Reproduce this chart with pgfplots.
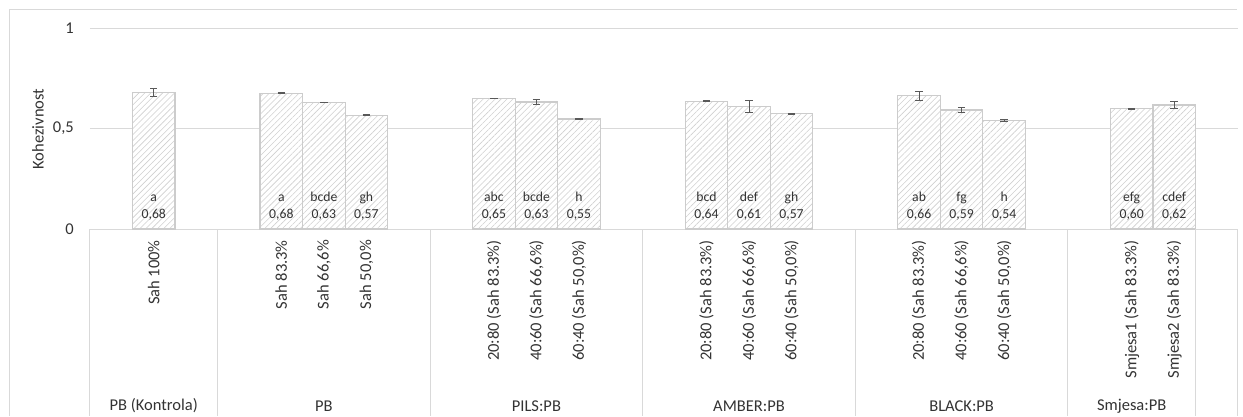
\documentclass[border=0pt]{standalone}
\usepackage{pgfplots}
\pgfplotsset{compat=1.18}
\usepackage{pgfplotstable}
\usepackage{fontspec}
\setmainfont{Carlito}
\usetikzlibrary{patterns.meta}

\definecolor{gridc}{HTML}{D9D9D9}
\definecolor{barc}{HTML}{CCCCCC}
\definecolor{hatchc}{HTML}{D0D0D0}
\definecolor{errc}{HTML}{595959}
\definecolor{txt}{HTML}{333333}

\pgfplotstableread{
x    y     err   lab
1.5  0.678 0.021 a
4.5  0.676 0.002 a
5.5  0.630 0.002 bcde
6.5  0.566 0.003 gh
9.5  0.650 0.001 abc
10.5 0.632 0.012 bcde
11.5 0.547 0.004 h
14.5 0.636 0.002 bcd
15.5 0.610 0.030 def
16.5 0.573 0.004 gh
19.5 0.663 0.022 ab
20.5 0.592 0.012 fg
21.5 0.541 0.004 h
24.5 0.598 0.004 efg
25.5 0.617 0.018 cdef
}\data

\begin{document}
\begin{tikzpicture}[font=\fontsize{16.5}{20}\selectfont, text=txt]
\useasboundingbox (0,0) rectangle (1243pt,416pt);
\draw[gridc, line width=1pt] (9pt,0pt) -- (9pt,406pt) -- (1237pt,406pt);
\node[rotate=90] at (38pt,287pt) {Kohezivnost};
\begin{axis}[
  at={(90pt,187pt)}, anchor=south west,
  width=1148pt, height=201pt, scale only axis,
  xmin=0, xmax=27, ymin=0, ymax=1,
  axis x line=bottom, axis y line=left,
  x axis line style={draw=gridc, line width=1pt, -},
  y axis line style={draw=none},
  major tick length=0pt,
  ytick={0,0.5,1}, yticklabels={0,{0,5},1},
  ymajorgrids, grid style={draw=gridc, line width=1pt},
  yticklabel style={anchor=east, inner sep=0pt, xshift=-16pt},
  xtick={1.5,4.5,5.5,6.5,9.5,10.5,11.5,14.5,15.5,16.5,19.5,20.5,21.5,24.5,25.5},
  xticklabels={Sah 100\%, Sah 83.3\%, {Sah 66,6\%}, {Sah 50,0\%},
    20:80 (Sah 83.3\%), {40:60 (Sah 66,6\%)}, {60:40 (Sah 50,0\%)},
    20:80 (Sah 83.3\%), {40:60 (Sah 66,6\%)}, {60:40 (Sah 50,0\%)},
    20:80 (Sah 83.3\%), {40:60 (Sah 66,6\%)}, {60:40 (Sah 50,0\%)},
    Smjesa1 (Sah 83.3\%), Smjesa2 (Sah 83.3\%)},
  xticklabel style={yshift=-11pt, rotate=90, anchor=east, inner sep=0pt},
  clip=false,
]
\addplot[ybar, bar width=1, bar shift=0pt, draw=barc, line width=1.2pt,
  preaction={fill=white},
  pattern={Lines[angle=45,distance=4.2pt,line width=0.6pt]}, pattern color=hatchc,
  error bars/.cd, y dir=both, y explicit,
  error bar style={errc, line width=0.9pt},
  error mark options={rotate=90, errc, line width=0.9pt, mark size=3.7pt}]
  table[x=x, y=y, y error=err] {\data};

\addplot[draw=none, mark=none,
  point meta=\thisrow{y},
  nodes near coords={\pgfmathprintnumber[fixed,fixed zerofill,precision=2,use comma,assume math mode=true]{\pgfplotspointmeta}},
  nodes near coords style={anchor=base, yshift=10.7pt, inner sep=0pt, text=txt, font=\fontsize{13.7}{16}\selectfont}]
  table[x=x, y expr=0] {\data};

\addplot[draw=none, mark=none,
  point meta=explicit symbolic,
  nodes near coords,
  nodes near coords style={anchor=base, yshift=27.8pt, inner sep=0pt, text=txt, font=\fontsize{13.7}{16}\selectfont}]
  table[x=x, y expr=0, meta=lab] {\data};

\pgfplotsinvokeforeach{0,3,8,13,18,23,26,27}{
  \draw[gridc, line width=1pt] (axis cs:#1,0) -- ++(0pt,-187pt);
}
\node at (axis cs:1.5,0) [yshift=-177pt] {PB (Kontrola)};
\node at (axis cs:5.5,0) [yshift=-177pt] {PB};
\node at (axis cs:10.5,0) [yshift=-177pt] {PILS:PB};
\node at (axis cs:15.5,0) [yshift=-177pt] {AMBER:PB};
\node at (axis cs:20.5,0) [yshift=-177pt] {BLACK:PB};
\node at (axis cs:24.5,0) [yshift=-177pt] {Smjesa:PB};
\end{axis}
\end{tikzpicture}
\end{document}
